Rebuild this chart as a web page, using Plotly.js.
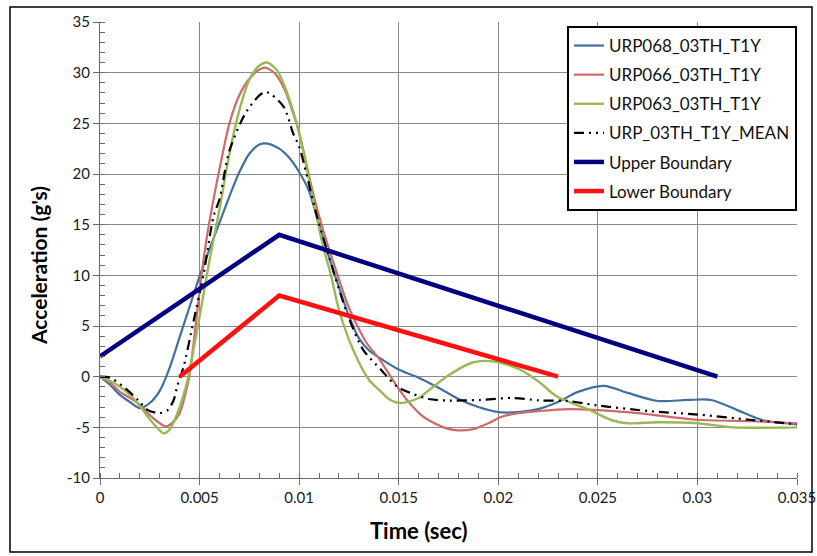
<!DOCTYPE html>
<html>
<head>
<meta charset="utf-8">
<script src="https://cdn.plot.ly/plotly-3.0.1.min.js"></script>
<style>
  html, body { margin: 0; padding: 0; background: #fff; }
  #chart { width: 817px; height: 556px; }
</style>
</head>
<body>
<div id="chart"></div>
<script>
// Accelerometer traces (time in seconds, acceleration in g's)
const tBlue = [0, 0.0005, 0.001, 0.0015, 0.002, 0.0025, 0.003, 0.0035, 0.004, 0.0045, 0.005, 0.0055, 0.006, 0.0065, 0.007, 0.0075, 0.008, 0.0084, 0.009, 0.0095, 0.01, 0.0105, 0.011, 0.0115, 0.012, 0.0125, 0.013, 0.0135, 0.014, 0.015, 0.016, 0.017, 0.018, 0.019, 0.02, 0.021, 0.022, 0.023, 0.024, 0.0253, 0.0265, 0.028, 0.0295, 0.0307, 0.032, 0.0333, 0.035];
const vBlue = [0, -0.8, -1.8, -2.5, -3.1, -2.6, -1.4, 0.9, 3.9, 6.9, 9.9, 12.6, 15.2, 17.8, 20.2, 22.0, 22.9, 23.0, 22.5, 21.6, 20.2, 18.3, 15.0, 11.8, 8.8, 6.0, 3.8, 2.6, 1.9, 0.7, -0.1, -1.1, -2.2, -3.0, -3.5, -3.5, -3.2, -2.5, -1.5, -0.9, -1.6, -2.4, -2.3, -2.3, -3.3, -4.3, -4.7];

const tRed = [0, 0.0005, 0.001, 0.0015, 0.002, 0.0025, 0.003, 0.0033, 0.0036, 0.004, 0.0043, 0.0045, 0.0048, 0.0051, 0.0054, 0.0057, 0.006, 0.0065, 0.007, 0.0075, 0.008, 0.0083, 0.0088, 0.0093, 0.0097, 0.01, 0.0107, 0.0112, 0.0119, 0.0124, 0.0128, 0.0134, 0.014, 0.0145, 0.015, 0.0155, 0.0162, 0.0167, 0.0174, 0.018, 0.0187, 0.0195, 0.0201, 0.021, 0.022, 0.0235, 0.025, 0.027, 0.03, 0.0328, 0.035];
const vRed = [0, -0.6, -1.5, -2.1, -2.8, -3.8, -4.6, -4.9, -4.6, -3.6, -1.6, 0.2, 5.0, 10.1, 14.2, 17.5, 20.5, 25.0, 27.8, 29.4, 30.3, 30.5, 29.9, 28.2, 26.0, 24.1, 18.1, 14.5, 10.2, 7.3, 5.5, 3.3, 1.8, 0.3, -1.2, -2.5, -3.9, -4.5, -5.1, -5.3, -5.2, -4.6, -4.0, -3.6, -3.4, -3.2, -3.3, -3.6, -4.25, -4.4, -4.6];

const tGreen = [0, 0.0005, 0.001, 0.0015, 0.002, 0.0025, 0.003, 0.0032, 0.0035, 0.004, 0.0044, 0.0046, 0.005, 0.0055, 0.006, 0.0065, 0.007, 0.0075, 0.008, 0.0084, 0.0089, 0.0094, 0.01, 0.0107, 0.0112, 0.0116, 0.012, 0.0127, 0.0135, 0.0141, 0.0145, 0.0151, 0.016, 0.0166, 0.0174, 0.0187, 0.0198, 0.0211, 0.0221, 0.0229, 0.0246, 0.0257, 0.0265, 0.028, 0.03, 0.0318, 0.035];
const vGreen = [0, -0.4, -1.0, -1.8, -2.9, -4.2, -5.3, -5.6, -5.2, -3.0, -0.3, 1.7, 5.9, 11.5, 16.5, 22.0, 26.3, 29.3, 30.7, 31.0, 30.2, 28.0, 24.0, 17.5, 12.9, 10.0, 6.6, 2.7, -0.3, -1.45, -2.2, -2.6, -2.1, -1.2, 0.0, 1.4, 1.5, 0.7, -0.6, -1.9, -3.3, -4.3, -4.6, -4.5, -4.6, -5.0, -5.0];

const tMean = [0, 0.0005, 0.00125, 0.0019, 0.0024, 0.003, 0.0034, 0.0037, 0.0039, 0.0042, 0.0047, 0.0052, 0.0057, 0.006, 0.0065, 0.0074, 0.0083, 0.0092, 0.0097, 0.01, 0.0109, 0.01155, 0.0124, 0.0132, 0.0141, 0.0149, 0.0157, 0.0165, 0.0174, 0.0191, 0.0207, 0.0221, 0.0235, 0.025, 0.0276, 0.0301, 0.0326, 0.035];
const vMean = [0, -0.1, -1.1, -2.3, -3.3, -3.6, -3.3, -2.3, -0.8, 1.0, 5.5, 10.1, 15.8, 17.5, 22.3, 26.3, 28.1, 26.7, 24.0, 22.7, 15.8, 11.5, 6.3, 2.7, 0.7, -0.95, -1.7, -2.2, -2.35, -2.3, -2.1, -2.35, -2.4, -2.85, -3.4, -3.75, -4.25, -4.7];

// Corridor limits
const tUpper = [0, 0.009, 0.031];
const vUpper = [2, 14, 0];
const tLower = [0.004, 0.009, 0.023];
const vLower = [0, 8, 0];

const names = ['URP068_03TH_T1Y', 'URP066_03TH_T1Y', 'URP063_03TH_T1Y', 'URP_03TH_T1Y_MEAN', 'Upper Boundary', 'Lower Boundary'];

// Axis ticks (labels written with a plain hyphen for negatives)
const xTicks = [0, 0.005, 0.01, 0.015, 0.02, 0.025, 0.03, 0.035];
const xTickText = ['0', '0.005', '0.01', '0.015', '0.02', '0.025', '0.03', '0.035'];
const yTicks = [-10, -5, 0, 5, 10, 15, 20, 25, 30, 35];
const yTickText = ['-10', '-5', '0', '5', '10', '15', '20', '25', '30', '35'];

const FONT = 'Lato, "Open Sans", "DejaVu Sans", sans-serif';

function curve(x, y, name, color, width, dash, group) {
  return {
    type: 'scatter', mode: 'lines', x: x, y: y, name: name,
    legendgroup: group,
    line: { color: color, width: width, dash: dash || 'solid', shape: 'spline', smoothing: 0.8 }
  };
}

const traces = [
  curve(tBlue, vBlue, names[0], '#41709f', 2.2, null, 'g1'),
  curve(tRed, vRed, names[1], '#cd6a6a', 2.2, null, 'g2'),
  curve(tGreen, vGreen, names[2], '#98b954', 2.4, null, 'g3'),
  curve(tMean, vMean, names[3], '#000000', 2.2, '10px,5px,2px,5px,2px,5px', 'g4'),
  { type: 'scatter', mode: 'lines', x: tUpper, y: vUpper, name: names[4], legendgroup: 'g5',
    line: { color: '#000080', width: 4.5 } },
  { type: 'scatter', mode: 'lines', x: tLower, y: vLower, name: names[5], legendgroup: 'g6',
    line: { color: '#ff1010', width: 4.5 } }
];

const L = 100, R = 20, T = 22, B = 78;
const W = 817, H = 556;
const pw = W - L - R, ph = H - T - B;
const px = v => (v - L) / pw;          // pixel -> paper x
const py = v => (H - B - v) / ph;      // pixel -> paper y

const tickStyle = { family: FONT, size: 15, color: '#1a1a1a' };

const layout = {
  width: W, height: H,
  margin: { l: L, r: R, t: T, b: B, pad: 0 },
  paper_bgcolor: '#ffffff', plot_bgcolor: '#ffffff',
  font: { family: FONT, color: '#1a1a1a', size: 15 },
  showlegend: true,
  legend: {
    x: px(567), y: py(26), xanchor: 'left', yanchor: 'top',
    bgcolor: '#ffffff', bordercolor: '#000000', borderwidth: 2,
    font: { family: FONT, size: 17, color: '#111111' },
    traceorder: 'grouped', tracegroupgap: 4,
    entrywidth: 203, entrywidthmode: 'pixels'
  },
  xaxis: {
    range: [0, 0.035], tickmode: 'array', tickvals: xTicks, ticktext: xTickText,
    showgrid: true, gridcolor: '#8a8a8a', gridwidth: 1,
    zeroline: false, showline: true, linecolor: '#6a6a6a', linewidth: 1,
    ticks: 'outside', ticklen: 6, tickcolor: '#6a6a6a',
    minor: { dtick: 0.001, tick0: 0, ticks: 'inside', ticklen: 5, tickcolor: '#6a6a6a', showgrid: false },
    tickfont: tickStyle,
    fixedrange: true
  },
  yaxis: {
    range: [-10, 35], tickmode: 'array', tickvals: yTicks, ticktext: yTickText,
    showgrid: true, gridcolor: '#8a8a8a', gridwidth: 1,
    zeroline: false, showline: true, linecolor: '#6a6a6a', linewidth: 1,
    ticks: 'outside', ticklen: 6, tickcolor: '#6a6a6a',
    minor: { dtick: 1, tick0: 0, ticks: 'inside', ticklen: 5, tickcolor: '#6a6a6a', showgrid: false },
    tickfont: tickStyle,
    fixedrange: true
  },
  annotations: [
    { text: 'Time (sec)', xref: 'paper', yref: 'paper', x: px(419), y: py(530),
      xanchor: 'center', yanchor: 'middle', showarrow: false,
      font: { family: FONT, size: 22, color: '#000000', weight: 'bold' } },
    { text: "Acceleration (g's)", xref: 'paper', yref: 'paper', x: px(38), y: py(265),
      xanchor: 'center', yanchor: 'middle', showarrow: false, textangle: -90,
      font: { family: FONT, size: 21, color: '#000000', weight: 'bold' } }
  ],
  shapes: [
    { type: 'rect', xref: 'paper', yref: 'paper', layer: 'above',
      x0: px(10), x1: px(812), y0: py(552), y1: py(7),
      line: { color: '#000000', width: 1.5 }, fillcolor: 'rgba(0,0,0,0)' }
  ]
};

Plotly.newPlot('chart', traces, layout, { displayModeBar: false, staticPlot: true });
</script>
</body>
</html>
